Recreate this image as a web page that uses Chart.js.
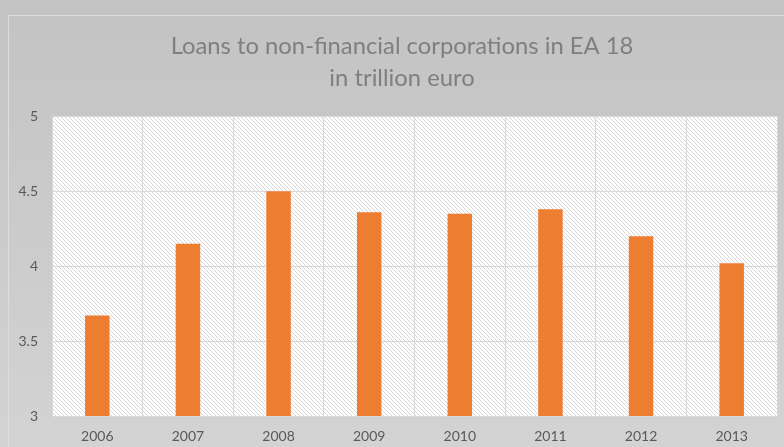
<!DOCTYPE html>
<html>
<head>
<meta charset="utf-8">
<script src="https://cdn.jsdelivr.net/npm/chart.js@4/dist/chart.umd.min.js"></script>
<style>
  html, body { margin: 0; padding: 0; background: #c4c5c4; }
  #wrap { width: 784px; height: 447px; position: relative; }
</style>
</head>
<body>
<div id="wrap"><canvas id="c" width="784" height="447"></canvas></div>
<script>
// Loans to non-financial corporations, euro area (18), trillion euro
const years = ['2006', '2007', '2008', '2009', '2010', '2011', '2012', '2013'];
const loans = [3.67, 4.15, 4.50, 4.36, 4.35, 4.38, 4.20, 4.02];
const yTicks = [3, 3.5, 4, 4.5, 5];
const yTickLabels = ['3', '3.5', '4', '4.5', '5'];
const titleLines = ['Loans to non-financial corporations in EA 18', 'in trillion euro'];

// Fine diagonal hatching for the plot area
function makeHatch() {
  const p = document.createElement('canvas');
  p.width = 4; p.height = 4;
  const g = p.getContext('2d');
  g.fillStyle = '#ffffff';
  g.fillRect(0, 0, 4, 4);
  g.fillStyle = '#d6d6d6';
  for (let i = 0; i < 4; i++) g.fillRect(i, i, 1, 1);
  return g.createPattern(p, 'repeat');
}

const backdrop = {
  id: 'backdrop',
  // centre the title over the framed chart object rather than the whole canvas
  afterLayout(chart) {
    if (chart.titleBlock) chart.titleBlock.left = 27;
  },
  beforeDraw(chart) {
    const ctx = chart.ctx;
    const { width, height, chartArea: a } = chart;
    ctx.save();
    const grad = ctx.createLinearGradient(0, 0, 0, height);
    grad.addColorStop(0, '#c2c3c2');
    grad.addColorStop(1, '#d2d3d2');
    ctx.fillStyle = grad;
    ctx.fillRect(0, 0, width, height);
    // light frame around the chart object
    ctx.strokeStyle = '#dcdddc';
    ctx.lineWidth = 1;
    ctx.strokeRect(8.5, 15.5, width + 20, height + 20);
    // hatched plot area
    ctx.fillStyle = makeHatch();
    ctx.fillRect(a.left, a.top, a.right - a.left, a.bottom - a.top);
    ctx.restore();
  }
};

new Chart(document.getElementById('c'), {
  type: 'bar',
  data: {
    labels: years,
    datasets: [{
      data: loans,
      backgroundColor: '#ed7d31',
      borderWidth: 0,
      categoryPercentage: 1,
      barPercentage: 0.27
    }]
  },
  options: {
    responsive: false,
    animation: false,
    layout: { padding: { left: 0, right: 7, top: 0, bottom: 0 } },
    plugins: {
      legend: { display: false },
      tooltip: { enabled: false },
      title: {
        display: true,
        text: titleLines,
        color: '#7f7f7f',
        font: { family: 'Lato', size: 23.8, weight: 'normal', lineHeight: 1.35 },
        padding: { top: 30, bottom: 22 }
      }
    },
    scales: {
      x: {
        grid: { color: '#d9d9d9', lineWidth: 1, offset: true, drawTicks: false },
        border: { color: '#d9d9d9' },
        ticks: { color: '#595959', font: { family: 'Lato', size: 14 }, padding: 12 },
        afterFit(s) { s.height = 31; }
      },
      y: {
        min: 3,
        max: 5,
        afterBuildTicks(s) { s.ticks = yTicks.map(v => ({ value: v })); },
        grid: { color: '#d9d9d9', lineWidth: 1, drawTicks: false },
        border: { color: '#d9d9d9' },
        ticks: {
          color: '#595959',
          font: { family: 'Lato', size: 14 },
          padding: 14,
          callback(v) { const i = yTicks.indexOf(v); return i >= 0 ? yTickLabels[i] : ''; }
        },
        afterFit(s) { s.width = 52; }
      }
    }
  },
  plugins: [backdrop]
});
</script>
</body>
</html>
